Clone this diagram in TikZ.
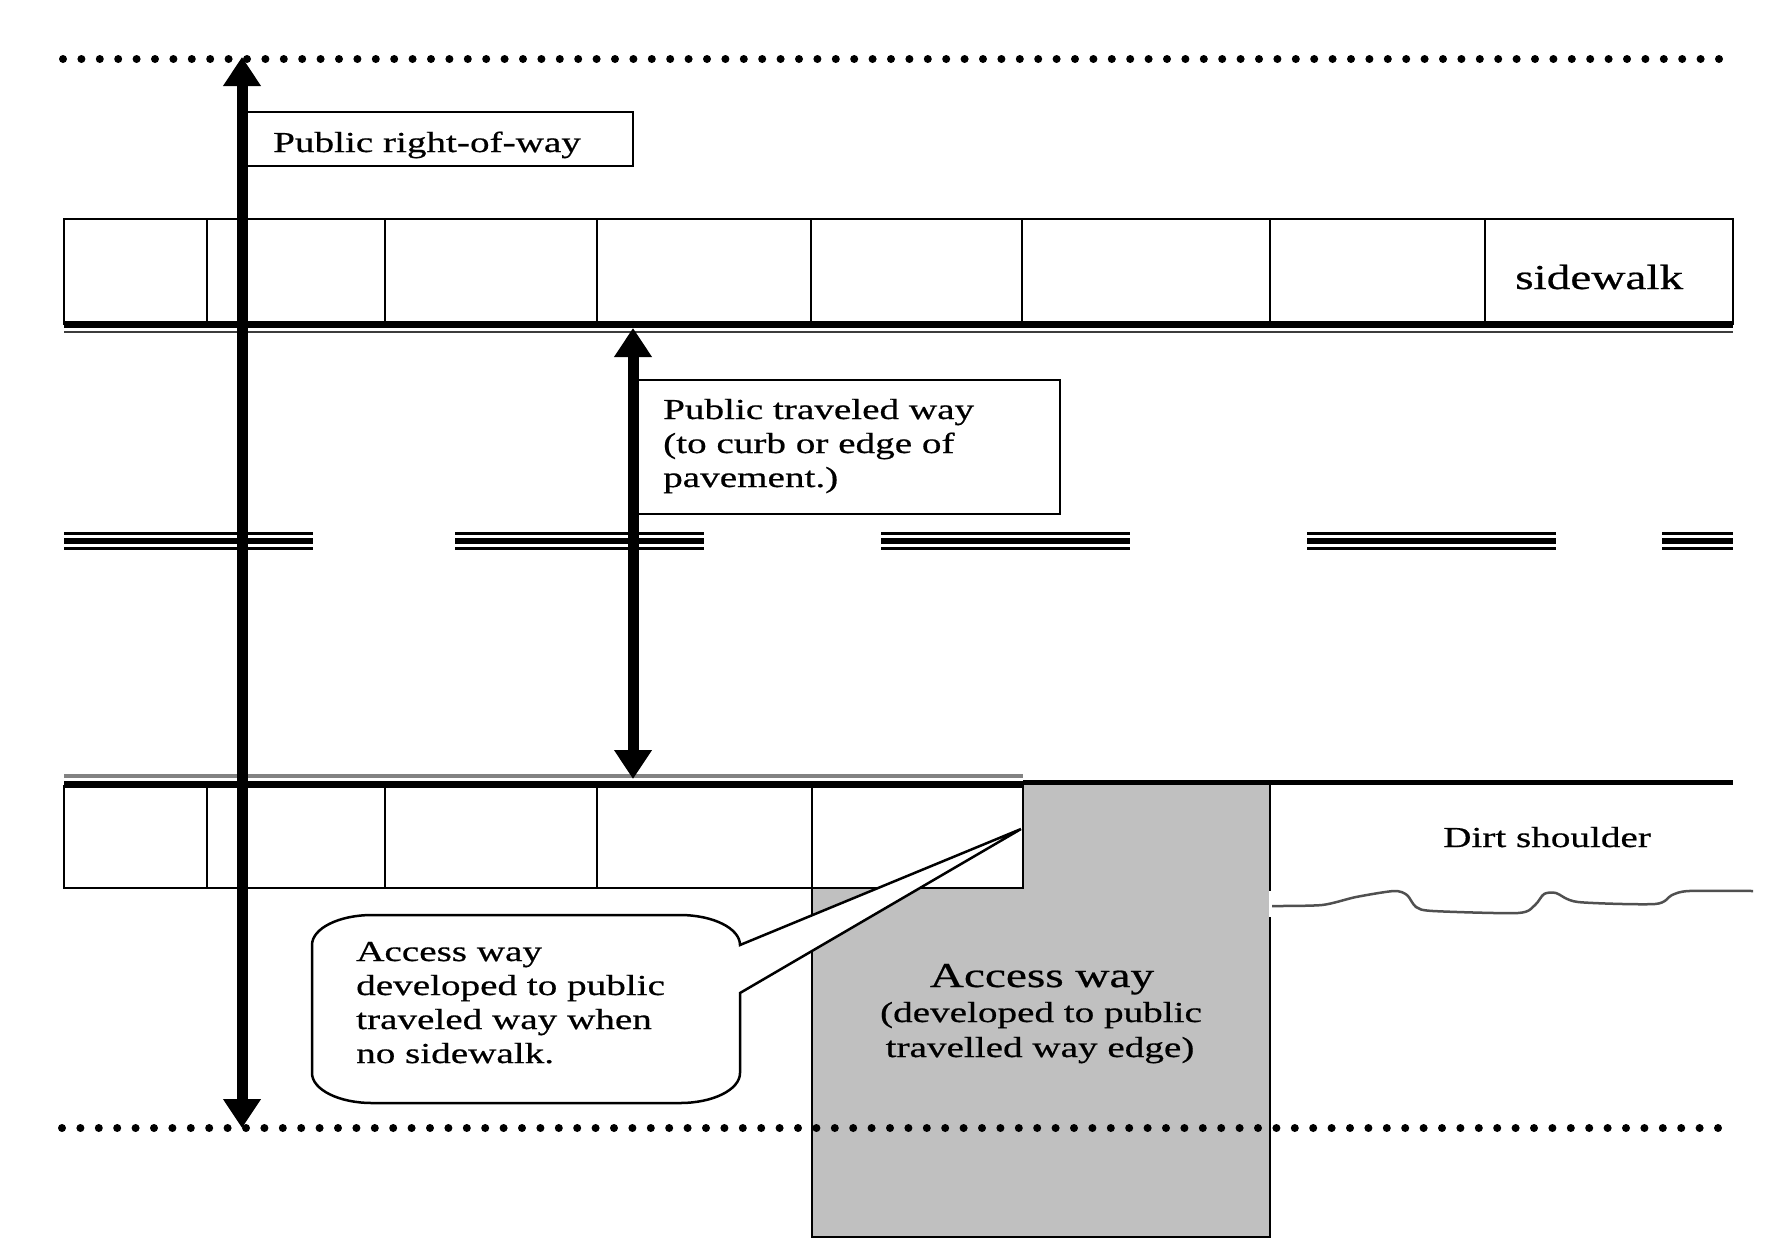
\documentclass[tikz,border=0pt]{standalone}
\usepackage{fontspec}
\newfontfamily\wf[FakeStretch=1.35,FakeBold=0.6]{Liberation Serif}
\usetikzlibrary{arrows.meta}
\begin{document}
\begin{tikzpicture}[x=1pt,y=-1pt,
  boxline/.style={draw=black,line width=2.5pt},
  dotline/.style={line width=8pt,line cap=round,dash pattern=on 0pt off 18.4pt},
  curbthick/.style={line width=7pt},
  lanethin/.style={line width=3pt},
  lanethick/.style={line width=5.5pt},
  dimarrow/.style={line width=11pt,{Triangle[width=36pt,length=29pt]}-{Triangle[width=36pt,length=29pt]}},
  txt/.style={font=\wf\fontsize{29}{34}\selectfont,inner sep=0pt},
  bigtxt/.style={font=\wf\fontsize{35}{40}\selectfont,inner sep=0pt},
  labelbox/.style={draw=black,line width=2pt,fill=white}]
\useasboundingbox (0,0) rectangle (1769,1243);
\fill[white] (0,0) rectangle (1769,1243);

% access way (gray)
\draw[boxline,fill={rgb,255:red,192;green,192;blue,192}] (812,782) rectangle (1270,1237);

% dotted right-of-way lines
\draw[dotline] (63,59) -- (1721,59);
\draw[dotline] (62,1128) -- (1721,1128);

% bottom sidewalk
\draw[boxline,fill=white] (64,786) rectangle (1023,888);
\foreach \xx in {207,385,597,812} \draw[boxline] (\xx,786) -- (\xx,888);

% curb lines (bottom)
\draw[line width=3.5pt,draw={rgb,255:red,130;green,130;blue,130}] (64,776) -- (1023,776);
\draw[curbthick] (64,784) -- (1023,784);
\draw[line width=4.5pt] (1023,782.5) -- (1733,782.5);

% top sidewalk
\draw[boxline] (64,219) rectangle (1733,324);
\foreach \xx in {207,385,597,811,1022,1270,1485} \draw[boxline] (\xx,219) -- (\xx,324);
\draw[curbthick] (64,324) -- (1733,324);
\draw[line width=2.5pt,draw={rgb,255:red,60;green,60;blue,60}] (64,332) -- (1733,332);

% center lane markings
\foreach \a/\b in {64/313,455/704,881/1130,1307/1556,1662/1733}{
  \draw[lanethin] (\a,533) -- (\b,533);
  \draw[lanethick] (\a,541) -- (\b,541);
  \draw[lanethin] (\a,548.5) -- (\b,548.5);
}

% dirt shoulder edge
\draw[line width=2.5pt,draw={rgb,255:red,80;green,80;blue,80}] plot[smooth,tension=0.45] coordinates {(1271,906) (1322,905) (1356,897) (1394,891) (1407,895) (1416,907) (1433,911) (1518,913) (1535,905) (1544,894) (1556,893) (1578,902) (1655,904) (1672,895) (1689,891) (1753,891)};
\draw[white,line width=3pt] (1270,891) -- (1270,917);

% label boxes
\draw[labelbox] (243,112) rectangle (633,166);
\draw[labelbox] (634,380) rectangle (1060,514);

% callout
\draw[line width=2.5pt,fill=white] (372,915) -- (680,915) .. controls (713.1,915) and (740,928.4) .. (740,945) -- (1021,829) -- (740,993) -- (740,1073) .. controls (740,1089.6) and (713.1,1103) .. (680,1103) -- (372,1103) .. controls (338.9,1103) and (312,1089.6) .. (312,1073) -- (312,945) .. controls (312,928.4) and (338.9,915) .. (372,915) -- cycle;

% dimension arrows
\coordinate (rowTop) at (242,57);
\coordinate (rowBot) at (242,1128);
\coordinate (twTop) at (633,328);
\coordinate (twBot) at (633,779);
\draw[dimarrow] (rowTop) -- (rowBot);
\draw[dimarrow] (twTop) -- (twBot);

% texts
\node[txt,anchor=base west] (row) at (273,152) {Public right-of-way};
\node[bigtxt,anchor=base west] (sw) at (1515,289) {sidewalk};
\node[txt,anchor=base west] (tw1) at (663,419) {Public traveled way};
\node[txt,anchor=base west] (tw2) at (663,453) {(to curb or edge of};
\node[txt,anchor=base west] (tw3) at (663,487) {pavement.)};
\node[txt,anchor=base west] (ds) at (1443,847) {Dirt shoulder};
\node[bigtxt,anchor=base] (aw1) at (1042,987) {Access way};
\node[txt,anchor=base] (aw2) at (1041,1022) {(developed to public};
\node[txt,anchor=base] (aw3) at (1040,1057) {travelled way edge)};
\node[txt,anchor=base west] (c1) at (356,961) {Access way};
\node[txt,anchor=base west] (c2) at (356,995) {developed to public};
\node[txt,anchor=base west] (c3) at (356,1029) {traveled way when};
\node[txt,anchor=base west] (c4) at (356,1063) {no sidewalk.};
\end{tikzpicture}
\end{document}
